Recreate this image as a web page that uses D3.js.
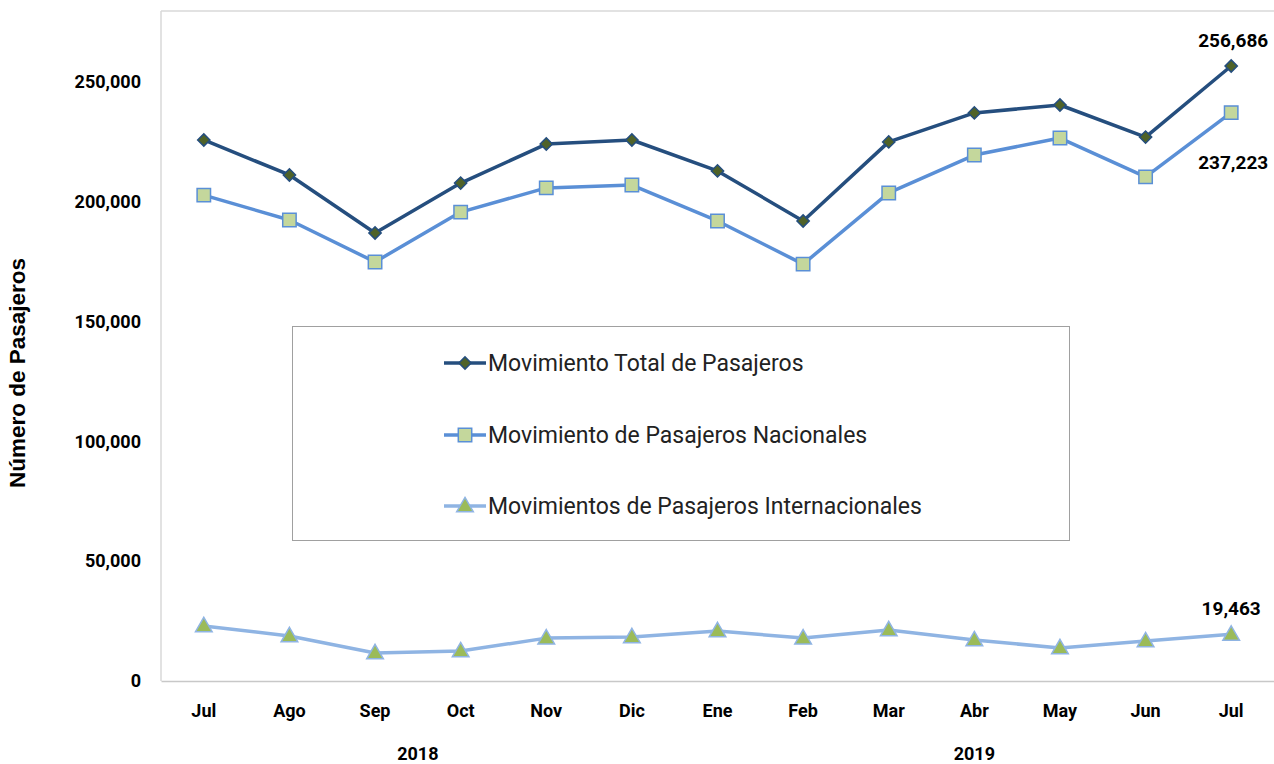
<!DOCTYPE html>
<html>

<head>
  <title>Movimiento de Pasajeros</title>
  <script src="https://d3js.org/d3.v7.min.js"></script>
  <style>
    body {
      margin: 0;
      background: #fff;
      font-family: Roboto, Arial, sans-serif;
    }

    .tick text {
      font-family: Roboto, sans-serif;
      font-weight: bold;
      font-size: 18px;
      fill: #000;
    }

    .legend-text {
      font-family: Roboto, sans-serif;
      font-size: 23px;
      fill: #222;
    }

    .data-label {
      font-family: Roboto, sans-serif;
      font-weight: bold;
      font-size: 19px;
      fill: #000;
    }
  </style>
</head>

<body>
  <svg id="chart" width="1274" height="764"></svg>

  <script>
    const months = ["Jul", "Ago", "Sep", "Oct", "Nov", "Dic", "Ene", "Feb", "Mar", "Abr", "May", "Jun", "Jul"];
    const years = [{ label: "2018", from: 0, to: 5 }, { label: "2019", from: 6, to: 12 }];

    const total = [225800, 211200, 187000, 207800, 224100, 225800, 212900, 192000, 225000, 237100, 240400, 227000, 256686];
    const nacional = [202800, 192400, 174900, 195700, 205800, 207000, 192000, 174000, 203700, 219500, 226600, 210400, 237223];
    const internacional = [23000, 18800, 11700, 12500, 17900, 18400, 20900, 17900, 21300, 17100, 13800, 16700, 19463];

    const yTicks = [0, 50000, 100000, 150000, 200000, 250000];

    // rotate: degrees applied to the symbol, dy: small vertical offset
    const series = [
      { name: "Movimiento Total de Pasajeros", values: total, line: "#254e7e", fill: "#4f6228", stroke: "#254e7e", symbol: d3.symbolSquare, size: 75, rotate: 45, dy: 0 },
      { name: "Movimiento de Pasajeros Nacionales", values: nacional, line: "#5a8fd6", fill: "#c4d79c", stroke: "#5a8fd6", symbol: d3.symbolSquare, size: 180, rotate: 0, dy: 0 },
      { name: "Movimientos de Pasajeros Internacionales", values: internacional, line: "#8fb4e3", fill: "#9bbb59", stroke: "#8fb4e3", symbol: d3.symbolTriangle, size: 120, rotate: 0, dy: 1 }
    ];

    const svg = d3.select("#chart");
    const plotL = 161, plotR = 1274, plotT = 11, plotB = 681;

    const x = d3.scaleBand().domain(d3.range(months.length)).range([plotL, plotR]);
    // 250,000 sits at y=82
    const y = d3.scaleLinear()
      .domain([0, 250000 * (plotB - plotT) / (plotB - 82)])
      .range([plotB, plotT]);

    const cx = i => x(i) + x.bandwidth() / 2;

    // plot frame: top and left lines
    svg.append("line").attr("x1", plotL).attr("x2", plotR).attr("y1", plotT).attr("y2", plotT)
      .attr("stroke", "#d9d9d9").attr("stroke-width", 1.5);
    svg.append("line").attr("x1", plotL).attr("x2", plotL).attr("y1", plotT).attr("y2", plotB)
      .attr("stroke", "#d9d9d9").attr("stroke-width", 1.5);

    // Axes
    const yAxis = d3.axisLeft(y).tickValues(yTicks).tickSize(0).tickPadding(20)
      .tickFormat(d3.format(","));
    svg.append("g").attr("transform", `translate(${plotL},0)`).call(yAxis)
      .call(g => g.select(".domain").remove());

    const xAxis = d3.axisBottom(x).tickSize(0).tickPadding(23).tickFormat(i => months[i]);
    svg.append("g").attr("transform", `translate(0,${plotB})`).call(xAxis)
      .call(g => g.select(".domain").attr("stroke", "#c8c8c8").attr("stroke-width", 1.5));

    // Year labels
    svg.selectAll(".year").data(years).enter().append("text")
      .attr("class", "data-label")
      .style("font-size", "18px")
      .attr("x", d => (cx(d.from) + cx(d.to)) / 2)
      .attr("y", 760)
      .attr("text-anchor", "middle")
      .text(d => d.label);

    // Y title
    svg.append("text")
      .attr("transform", `translate(25,373) rotate(-90)`)
      .attr("text-anchor", "middle")
      .attr("font-family", "'Liberation Sans', Arial, sans-serif")
      .attr("font-weight", "bold")
      .attr("font-size", 22.5)
      .text("Número de Pasajeros");

    const marker = (sel, s) => sel
      .attr("d", d3.symbol(s.symbol, s.size)())
      .attr("fill", s.fill).attr("stroke", s.stroke).attr("stroke-width", 1.5);

    // Legend box
    const lg = svg.append("g");
    lg.append("rect").attr("x", 292.5).attr("y", 326.5).attr("width", 777).attr("height", 214)
      .attr("fill", "#fff").attr("stroke", "#a0a0a0").attr("stroke-width", 1);
    const legY = [363, 435, 506];
    series.forEach((s, k) => {
      const g = lg.append("g").attr("transform", `translate(0,${legY[k]})`);
      g.append("line").attr("x1", 444).attr("x2", 486).attr("y1", 0).attr("y2", 0)
        .attr("stroke", s.line).attr("stroke-width", 3.5);
      g.append("path").call(marker, s)
        .attr("transform", `translate(465,${s.dy}) rotate(${s.rotate})`);
      g.append("text").attr("class", "legend-text").attr("x", 488).attr("y", 8).text(s.name);
    });

    // Lines and markers
    const line = d3.line().x((d, i) => cx(i)).y(d => y(d));
    series.forEach(s => {
      svg.append("path").datum(s.values)
        .attr("fill", "none").attr("stroke", s.line).attr("stroke-width", 3.5)
        .attr("stroke-linejoin", "round")
        .attr("d", line);
      svg.append("g").selectAll("path").data(s.values).enter().append("path")
        .call(marker, s)
        .attr("transform", (d, i) => `translate(${cx(i)},${y(d) + s.dy}) rotate(${s.rotate})`);
    });

    // Data labels for last point
    const last = months.length - 1;
    const fmt = d3.format(",");
    svg.append("text").attr("class", "data-label").attr("text-anchor", "middle")
      .attr("x", cx(last) + 2).attr("y", y(total[last]) - 19).text(fmt(total[last]));
    svg.append("text").attr("class", "data-label").attr("text-anchor", "middle")
      .attr("x", cx(last) + 2).attr("y", y(nacional[last]) + 56).text(fmt(nacional[last]));
    svg.append("text").attr("class", "data-label").attr("text-anchor", "middle")
      .attr("x", cx(last)).attr("y", y(internacional[last]) - 19).text(fmt(internacional[last]));
  </script>
</body>

</html>
